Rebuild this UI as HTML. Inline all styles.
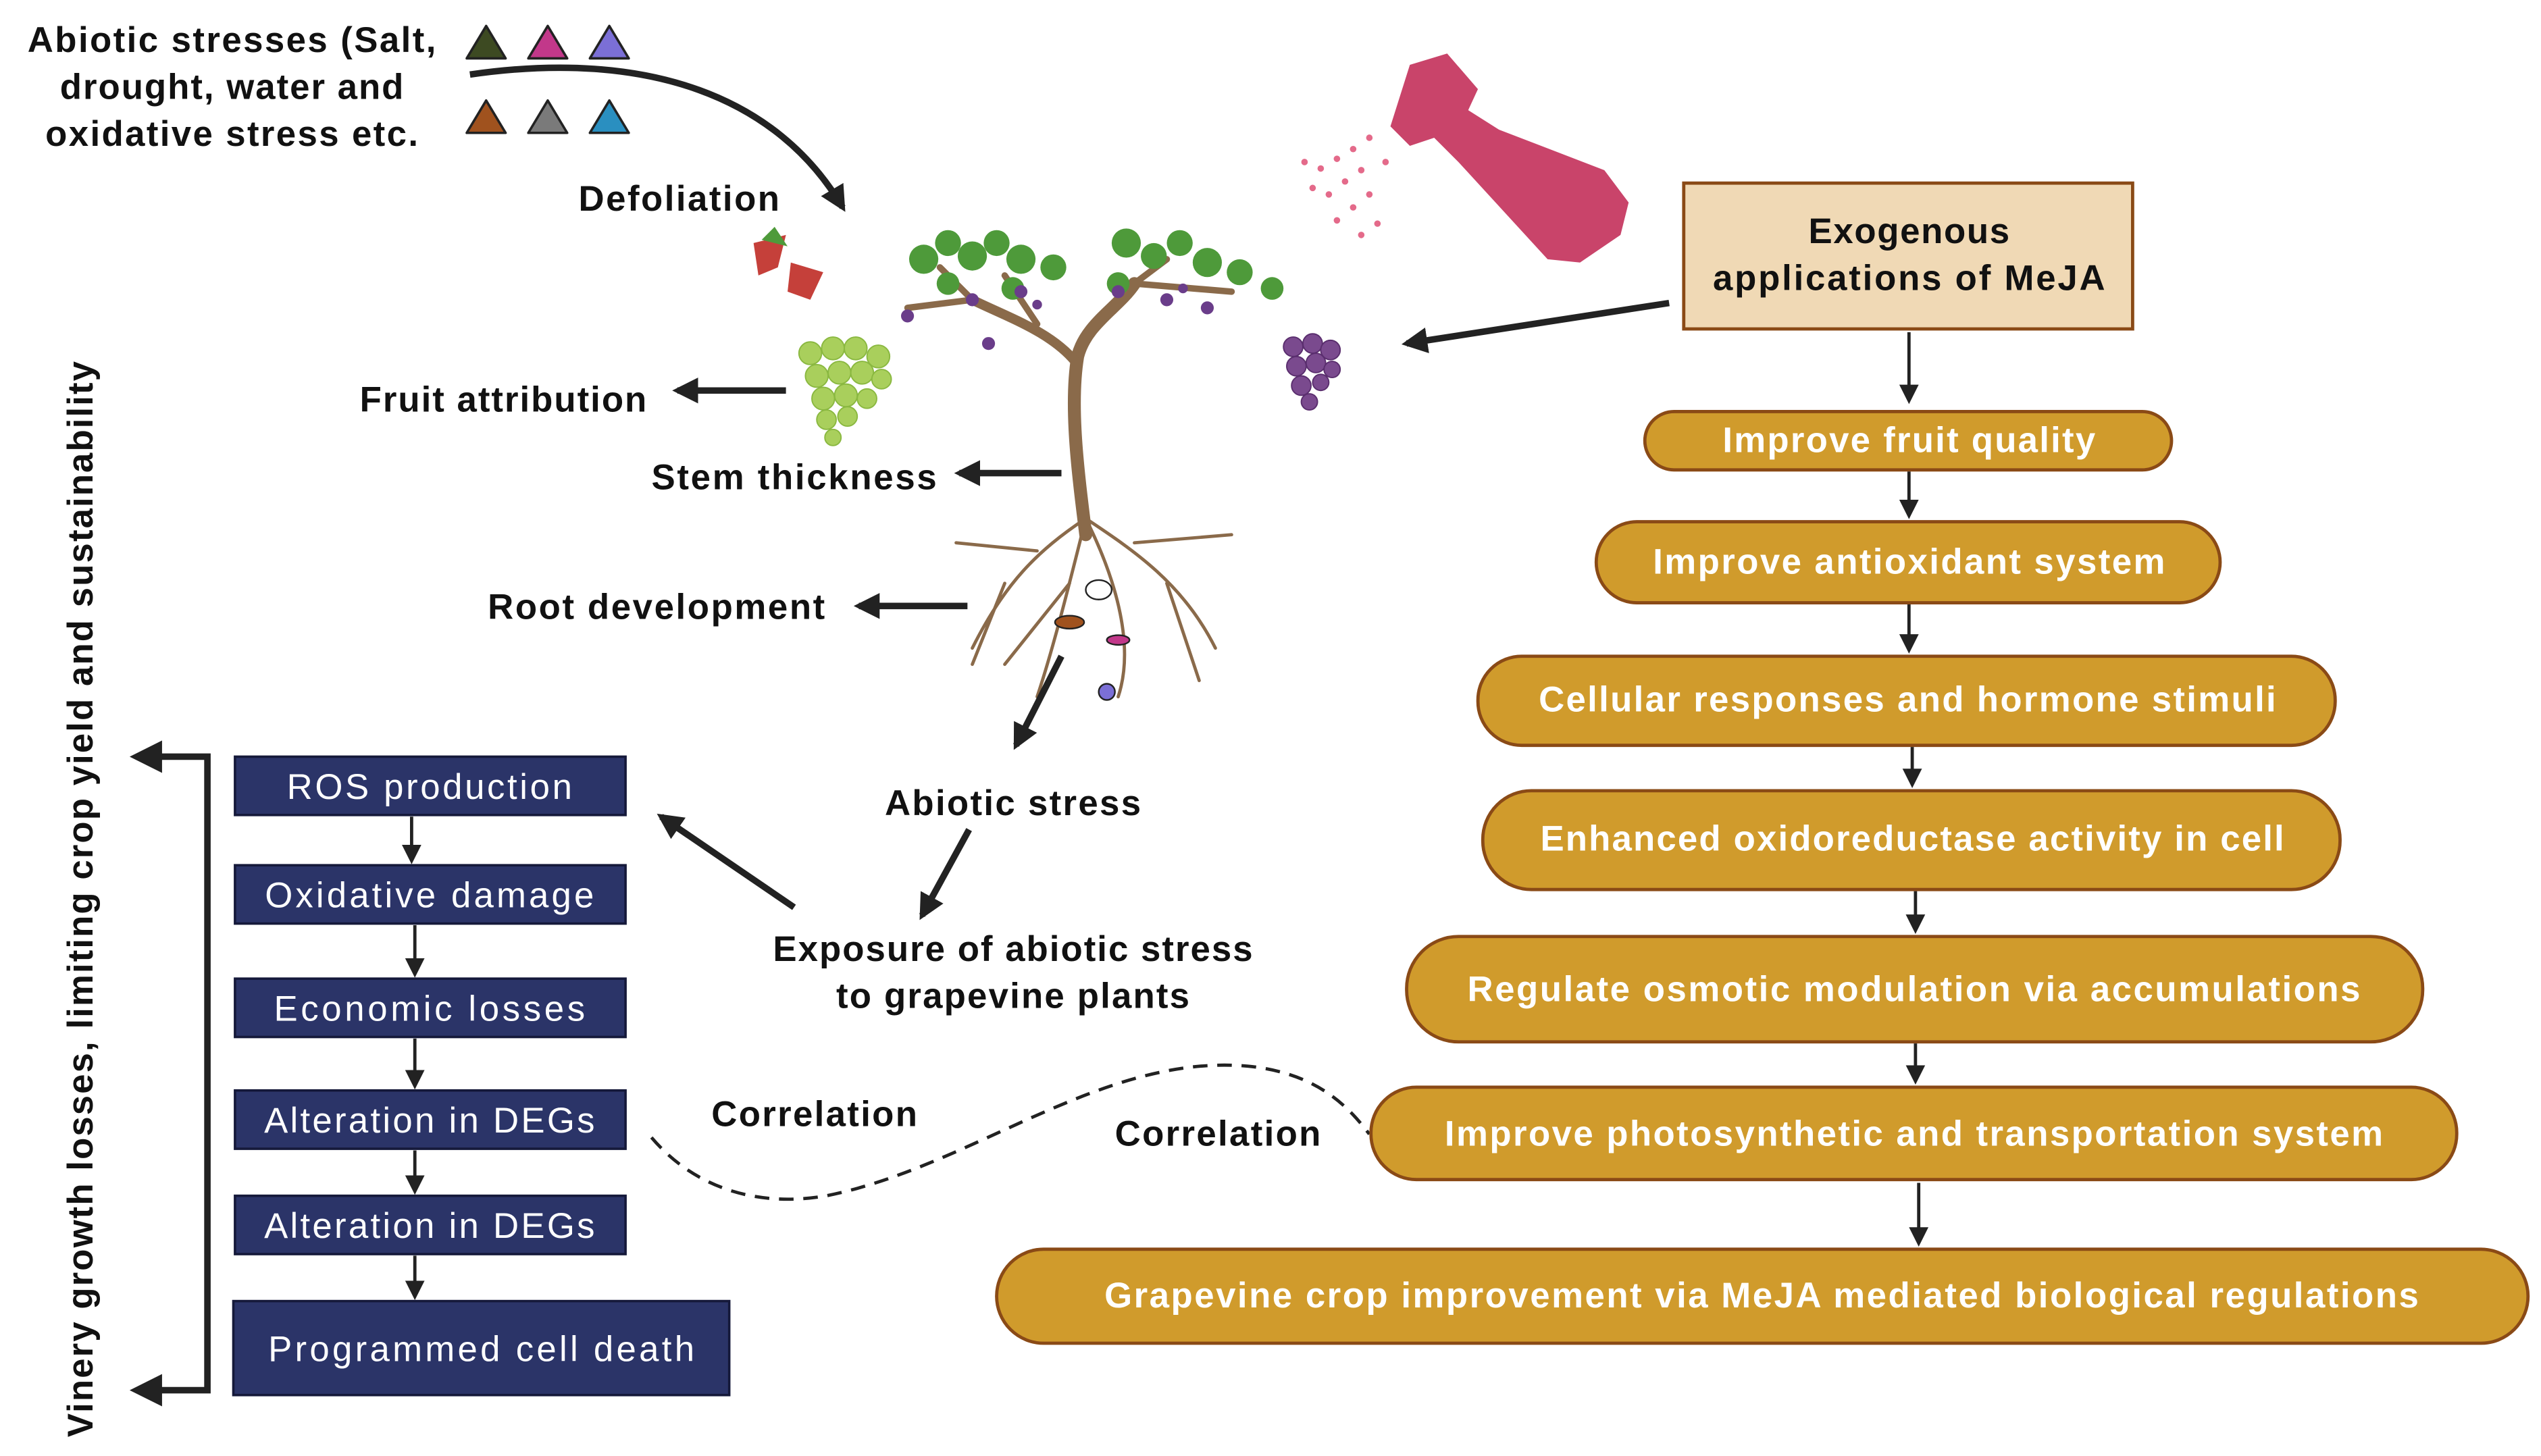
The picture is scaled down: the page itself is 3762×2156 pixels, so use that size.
<!DOCTYPE html>
<html><head><meta charset="utf-8"><style>
html,body{margin:0;padding:0;background:#fff;}
svg{display:block;}
text{font-family:"Liberation Sans",sans-serif;}
.b{font-weight:bold;fill:#111;font-size:22px;}
.w{font-weight:bold;fill:#fff;font-size:22px;}
.n{fill:#fff;font-size:22px;}
.pill{fill:#D09B2C;stroke:#8A4A16;stroke-width:2;}
.nav{fill:#2B3468;stroke:#15193a;stroke-width:1.5;}
</style></head><body>
<svg width="3762" height="2156" viewBox="0 0 1568 898.6" xmlns="http://www.w3.org/2000/svg">
<defs>
<marker id="a" viewBox="0 0 10 10" refX="8" refY="5" markerWidth="4" markerHeight="4" orient="auto"><path d="M0,0L10,5L0,10z" fill="#222"/></marker>
<marker id="s" viewBox="0 0 10 10" refX="8" refY="5" markerWidth="6" markerHeight="6" orient="auto"><path d="M0,0L10,5L0,10z" fill="#222"/></marker>
</defs>
<rect width="1568" height="898.6" fill="#fff"/>

<text class="b" x="143" y="32" text-anchor="middle" textLength="252">Abiotic stresses (Salt,</text>
<text class="b" x="143" y="61" text-anchor="middle" textLength="212">drought, water and</text>
<text class="b" x="143" y="90" text-anchor="middle" textLength="230">oxidative stress etc.</text>
<g stroke="#222" stroke-width="1.5" stroke-linejoin="round">
<path d="M300,16 L312,36 L288,36Z" fill="#3d4a22"/>
<path d="M338,16 L350,36 L326,36Z" fill="#c2388a"/>
<path d="M376,16 L388,36 L364,36Z" fill="#7b6fd6"/>
<path d="M300,62 L312,82 L288,82Z" fill="#a0521e"/>
<path d="M338,62 L350,82 L326,82Z" fill="#7a7a7a"/>
<path d="M376,62 L388,82 L364,82Z" fill="#2a8fc0"/>
</g>
<path d="M290,46 C400,30 480,60 520,128" fill="none" stroke="#222" stroke-width="4" marker-end="url(#a)"/>
<text class="b" x="357" y="130" textLength="124">Defoliation</text>

<!-- spray bottle -->
<path d="M870,40 L893,33 L912,55 L906,68 L925,80 L990,105 L1005,125 L1000,145 L975,162 L955,160 L900,100 L885,85 L870,90 L858,78 Z" fill="#c9446a"/>
<g fill="#e46a8a">
<circle cx="845" cy="85" r="2"/><circle cx="835" cy="92" r="2"/><circle cx="825" cy="98" r="2"/><circle cx="815" cy="104" r="2"/><circle cx="805" cy="100" r="2"/>
<circle cx="840" cy="105" r="2"/><circle cx="830" cy="112" r="2"/><circle cx="820" cy="120" r="2"/><circle cx="810" cy="116" r="2"/>
<circle cx="845" cy="120" r="2"/><circle cx="835" cy="128" r="2"/><circle cx="825" cy="136" r="2"/><circle cx="850" cy="138" r="2"/><circle cx="840" cy="145" r="2"/><circle cx="855" cy="100" r="2"/>
</g>

<!-- tree -->
<g stroke="#8a6a4a" fill="none" stroke-linecap="round">
<path d="M670,330 C665,290 660,250 665,220 C670,200 690,190 700,175" stroke-width="8"/>
<path d="M665,225 C650,205 620,195 600,185" stroke-width="6"/>
<path d="M600,185 L560,190 M600,185 L580,165 M700,175 L760,180 M700,175 L720,160 M640,200 L620,170" stroke-width="4"/>
<path d="M670,320 C640,340 620,360 600,400 M670,320 C700,340 730,360 750,400 M670,320 C660,360 650,400 640,430 M670,320 C690,360 700,400 690,430 M640,340 L590,335 M700,335 L760,330 M620,360 L600,410 M720,360 L740,420 M660,360 L620,410" stroke-width="2"/>
</g>
<g fill="#4e9a3a">
<circle cx="570" cy="160" r="9"/><circle cx="585" cy="150" r="8"/><circle cx="600" cy="158" r="9"/><circle cx="615" cy="150" r="8"/><circle cx="630" cy="160" r="9"/><circle cx="650" cy="165" r="8"/><circle cx="585" cy="175" r="7"/><circle cx="625" cy="178" r="7"/>
<circle cx="695" cy="150" r="9"/><circle cx="712" cy="158" r="8"/><circle cx="728" cy="150" r="8"/><circle cx="745" cy="162" r="9"/><circle cx="765" cy="168" r="8"/><circle cx="785" cy="178" r="7"/><circle cx="690" cy="175" r="7"/>
</g>
<g fill="#6a3d8a">
<circle cx="600" cy="185" r="4"/><circle cx="630" cy="180" r="4"/><circle cx="560" cy="195" r="4"/><circle cx="720" cy="185" r="4"/><circle cx="745" cy="190" r="4"/><circle cx="690" cy="180" r="4"/><circle cx="610" cy="212" r="4"/><circle cx="640" cy="188" r="3"/><circle cx="730" cy="178" r="3"/>
</g>
<g fill="#a9cf5c" stroke="#8ab840" stroke-width="0.8">
<circle cx="500" cy="218" r="7"/><circle cx="514" cy="215" r="7"/><circle cx="528" cy="215" r="7"/><circle cx="542" cy="220" r="7"/>
<circle cx="504" cy="232" r="7"/><circle cx="518" cy="230" r="7"/><circle cx="532" cy="230" r="7"/><circle cx="544" cy="234" r="6"/>
<circle cx="508" cy="246" r="7"/><circle cx="522" cy="244" r="7"/><circle cx="535" cy="246" r="6"/>
<circle cx="510" cy="259" r="6"/><circle cx="523" cy="257" r="6"/><circle cx="514" cy="270" r="5"/>
</g>
<g fill="#7a4a8e" stroke="#5a2e6e" stroke-width="0.8">
<circle cx="798" cy="214" r="6"/><circle cx="810" cy="212" r="6"/><circle cx="821" cy="216" r="6"/>
<circle cx="800" cy="226" r="6"/><circle cx="812" cy="224" r="6"/><circle cx="822" cy="228" r="5"/>
<circle cx="803" cy="238" r="6"/><circle cx="815" cy="236" r="5"/><circle cx="808" cy="248" r="5"/>
</g>
<g fill="#c5403a"><path d="M465,150 L485,145 L480,165 L468,170Z"/><path d="M488,162 L508,168 L500,185 L486,180Z"/></g>
<g fill="#4e9a3a"><path d="M470,148 L478,140 L486,152Z"/></g>
<g stroke="#222" stroke-width="1"><ellipse cx="678" cy="364" rx="8" ry="6" fill="#fff"/><ellipse cx="660" cy="384" rx="9" ry="4" fill="#a0521e"/><ellipse cx="690" cy="395" rx="7" ry="3" fill="#c2388a"/><ellipse cx="683" cy="427" rx="5" ry="5" fill="#7b6fd6"/></g>

<g stroke="#222" stroke-width="4" fill="none">
<line x1="485" y1="241" x2="418" y2="241" marker-end="url(#a)"/>
<line x1="655" y1="292" x2="592" y2="292" marker-end="url(#a)"/>
<line x1="597" y1="374" x2="530" y2="374" marker-end="url(#a)"/>
<line x1="655" y1="405" x2="627" y2="460" marker-end="url(#a)"/>
<line x1="598" y1="512" x2="569" y2="565" marker-end="url(#a)"/>
<line x1="490" y1="560" x2="408" y2="504" marker-end="url(#a)"/>
<line x1="1030" y1="187" x2="868" y2="212" marker-end="url(#a)"/>
</g>
<text class="b" x="222" y="254" textLength="177">Fruit attribution</text>
<text class="b" x="402" y="302" textLength="176">Stem thickness</text>
<text class="b" x="301" y="382" textLength="208">Root development</text>
<text class="b" x="625" y="503" text-anchor="middle" textLength="158">Abiotic stress</text>
<text class="b" x="625" y="593" text-anchor="middle" textLength="296">Exposure of abiotic stress</text>
<text class="b" x="625" y="622" text-anchor="middle" textLength="218">to grapevine plants</text>
<text class="b" x="439" y="695" textLength="127">Correlation</text>
<text class="b" x="688" y="707" textLength="127">Correlation</text>
<path d="M402,702 C430,735 470,745 510,738 C600,720 680,650 770,658 C810,662 830,680 845,700" fill="none" stroke="#222" stroke-width="2" stroke-dasharray="9,6"/>

<text class="b" transform="translate(57,555) rotate(-90)" text-anchor="middle" textLength="664">Vinery growth losses, limiting crop yield and sustainability</text>
<path d="M85,467 L128,467 L128,858 L85,858" fill="none" stroke="#222" stroke-width="4"/>
<path d="M80,467 L100,457 L100,477Z M80,858 L100,848 L100,868Z" fill="#222"/>

<rect class="nav" x="145" y="467" width="241" height="36"/>
<rect class="nav" x="145" y="534" width="241" height="36"/>
<rect class="nav" x="145" y="604" width="241" height="36"/>
<rect class="nav" x="145" y="673" width="241" height="36"/>
<rect class="nav" x="145" y="738" width="241" height="36"/>
<rect class="nav" x="144" y="803" width="306" height="58"/>
<text class="n" x="265" y="493" text-anchor="middle" textLength="176">ROS production</text>
<text class="n" x="265" y="560" text-anchor="middle" textLength="203">Oxidative damage</text>
<text class="n" x="265" y="630" text-anchor="middle" textLength="192">Economic losses</text>
<text class="n" x="265" y="699" text-anchor="middle" textLength="204">Alteration in DEGs</text>
<text class="n" x="265" y="764" text-anchor="middle" textLength="204">Alteration in DEGs</text>
<text class="n" x="297" y="840" text-anchor="middle" textLength="263">Programmed cell death</text>
<g stroke="#222" stroke-width="2" marker-end="url(#s)">
<line x1="254" y1="504" x2="254" y2="531"/><line x1="256" y1="571" x2="256" y2="601"/><line x1="256" y1="641" x2="256" y2="670"/><line x1="256" y1="710" x2="256" y2="735"/><line x1="256" y1="775" x2="256" y2="800"/>
</g>

<rect x="1039" y="113" width="277" height="90" fill="#F0D9B5" stroke="#8A4A16" stroke-width="2"/>
<text class="b" x="1178" y="150" text-anchor="middle" textLength="124">Exogenous</text>
<text class="b" x="1178" y="179" text-anchor="middle" textLength="242">applications of MeJA</text>
<rect class="pill" x="1015" y="254" width="325" height="36" rx="18"/>
<rect class="pill" x="985" y="322" width="385" height="50" rx="25"/>
<rect class="pill" x="912" y="405" width="529" height="55" rx="27"/>
<rect class="pill" x="915" y="488" width="529" height="61" rx="30"/>
<rect class="pill" x="868" y="578" width="627" height="65" rx="32"/>
<rect class="pill" x="846" y="671" width="670" height="57" rx="28"/>
<rect class="pill" x="615" y="771" width="945" height="58" rx="29"/>
<text class="w" x="1178" y="279" text-anchor="middle" textLength="230">Improve fruit quality</text>
<text class="w" x="1178" y="354" text-anchor="middle" textLength="316">Improve antioxidant system</text>
<text class="w" x="1177" y="439" text-anchor="middle" textLength="455">Cellular responses and hormone stimuli</text>
<text class="w" x="1180" y="525" text-anchor="middle" textLength="459">Enhanced oxidoreductase activity in cell</text>
<text class="w" x="1181" y="618" text-anchor="middle" textLength="551">Regulate osmotic modulation via accumulations</text>
<text class="w" x="1181" y="707" text-anchor="middle" textLength="579">Improve photosynthetic and transportation system</text>
<text class="w" x="1087" y="807" text-anchor="middle" textLength="811">Grapevine crop improvement via MeJA mediated biological regulations</text>
<g stroke="#222" stroke-width="2" marker-end="url(#s)">
<line x1="1178" y1="205" x2="1178" y2="247"/><line x1="1178" y1="291" x2="1178" y2="318"/><line x1="1178" y1="373" x2="1178" y2="401"/><line x1="1180" y1="461" x2="1180" y2="484"/><line x1="1182" y1="550" x2="1182" y2="574"/><line x1="1182" y1="644" x2="1182" y2="667"/><line x1="1184" y1="730" x2="1184" y2="767"/>
</g>
</svg>
</body></html>
